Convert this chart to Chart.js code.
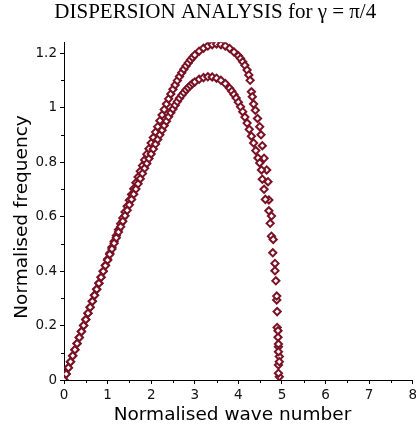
<!DOCTYPE html>
<html>
<head>
<meta charset="utf-8">
<script src="https://cdn.jsdelivr.net/npm/chart.js@4"></script>
<style>
html, body { margin: 0; padding: 0; background: #fff; overflow: hidden; }
</style>
</head>
<body>
<canvas id="myChart" width="420" height="432"></canvas>
<script>
// upper branch (peak ~1.23)
const waveA = [0, 0.05, 0.1, 0.15, 0.2, 0.25, 0.3, 0.35, 0.4, 0.45, 0.5, 0.55, 0.6, 0.65, 0.7, 0.75, 0.8, 0.85, 0.9, 0.95,
  1.0, 1.05, 1.1, 1.15, 1.2, 1.25, 1.3, 1.35, 1.4, 1.45, 1.5, 1.55, 1.6, 1.65, 1.7, 1.75, 1.8, 1.85, 1.9, 1.95,
  2.0, 2.05, 2.1, 2.15, 2.2, 2.25, 2.3, 2.35, 2.4, 2.45, 2.5, 2.55, 2.6, 2.65, 2.7, 2.75, 2.8, 2.85, 2.9, 2.95,
  3.0, 3.1, 3.2, 3.3, 3.4, 3.5, 3.6, 3.7, 3.8, 3.9, 4.0, 4.05, 4.1, 4.15, 4.2, 4.24, 4.27,
  4.3, 4.32, 4.35, 4.39, 4.44, 4.49, 4.52, 4.55, 4.59, 4.65, 4.68, 4.70, 4.76, 4.76, 4.84, 4.86, 4.88, 4.89,
  4.91, 4.92, 4.94, 4.92, 4.94];
const freqA = [0, 0.022, 0.045, 0.067, 0.089, 0.111, 0.134, 0.156, 0.178, 0.2, 0.222, 0.245, 0.267, 0.289, 0.311, 0.333, 0.355, 0.377, 0.399, 0.421,
  0.443, 0.465, 0.487, 0.509, 0.53, 0.552, 0.574, 0.595, 0.617, 0.638, 0.66, 0.681, 0.702, 0.724, 0.745, 0.766, 0.787, 0.808, 0.829, 0.849,
  0.87, 0.89, 0.91, 0.93, 0.952, 0.973, 0.993, 1.013, 1.032, 1.05, 1.067, 1.083, 1.099, 1.114, 1.128, 1.141, 1.153, 1.164, 1.175, 1.184,
  1.193, 1.207, 1.218, 1.226, 1.231, 1.233, 1.231, 1.226, 1.217, 1.204, 1.19, 1.18, 1.168, 1.155, 1.138, 1.12, 1.1,
  1.058, 1.04, 1.013, 0.99, 0.96, 0.93, 0.9, 0.86, 0.814, 0.771, 0.728, 0.661, 0.602, 0.528, 0.428, 0.364, 0.294, 0.193,
  0.157, 0.122, 0.086, 0.055, 0.012];

// lower branch (peak ~1.11)
const waveB = [0, 0.05, 0.1, 0.15, 0.2, 0.25, 0.3, 0.35, 0.4, 0.45, 0.5, 0.55, 0.6, 0.65, 0.7, 0.75, 0.8, 0.85, 0.9, 0.95,
  1.0, 1.05, 1.1, 1.15, 1.2, 1.25, 1.3, 1.35, 1.4, 1.45, 1.5, 1.55, 1.6, 1.65, 1.7, 1.75, 1.8, 1.85, 1.9, 1.95,
  2.0, 2.05, 2.1, 2.15, 2.2, 2.25, 2.3, 2.35, 2.4, 2.45, 2.5, 2.55, 2.6, 2.65, 2.7, 2.75, 2.8, 2.85, 2.9, 2.95,
  3.0, 3.1, 3.2, 3.3, 3.4, 3.5, 3.6, 3.7, 3.8, 3.85, 3.9, 3.95, 4.0, 4.05, 4.1, 4.15, 4.2, 4.25, 4.3, 4.35, 4.4, 4.45,
  4.49, 4.53, 4.55, 4.59, 4.62, 4.70, 4.73, 4.80, 4.79, 4.84, 4.88, 4.89, 4.91, 4.92, 4.92, 4.94, 4.92];
const freqB = [0, 0.022, 0.045, 0.067, 0.089, 0.111, 0.134, 0.156, 0.178, 0.2, 0.222, 0.245, 0.267, 0.289, 0.311, 0.333, 0.355, 0.377, 0.399, 0.42,
  0.44, 0.461, 0.481, 0.502, 0.522, 0.543, 0.563, 0.583, 0.603, 0.623, 0.643, 0.663, 0.682, 0.701, 0.72, 0.739, 0.758, 0.777, 0.795, 0.813,
  0.83, 0.848, 0.866, 0.883, 0.9, 0.917, 0.934, 0.95, 0.966, 0.981, 0.995, 1.009, 1.022, 1.034, 1.045, 1.055, 1.065, 1.073, 1.081, 1.088,
  1.094, 1.104, 1.11, 1.113, 1.112, 1.108, 1.1, 1.088, 1.071, 1.06, 1.048, 1.035, 1.02, 1.003, 0.985, 0.965, 0.943, 0.92, 0.895, 0.87, 0.842, 0.815,
  0.797, 0.771, 0.737, 0.70, 0.663, 0.621, 0.575, 0.516, 0.467, 0.401, 0.308, 0.251, 0.181, 0.132, 0.104, 0.067, 0.025];

const xTicks = [0, 1, 2, 3, 4, 5, 6, 7, 8];
const yTicks = [0, 0.2, 0.4, 0.6, 0.8, 1, 1.2];

const markColor = '#7a1226';

function toPoints(xs, ys) {
    return xs.map((k, i) => ({ x: k, y: ys[i] }));
}

// small minor ticks between the labelled ones
const minorTicks = {
    id: 'minorTicks',
    afterDraw(chart) {
        const { ctx, scales: { x, y } } = chart;
        ctx.save();
        ctx.strokeStyle = '#000';
        ctx.lineWidth = 1;
        ctx.beginPath();
        for (let i = 0; i < xTicks.length - 1; i++) {
            const px = Math.round(x.getPixelForValue((xTicks[i] + xTicks[i + 1]) / 2)) + 0.5;
            ctx.moveTo(px, x.top);
            ctx.lineTo(px, x.top + 3);
        }
        for (let i = 0; i < yTicks.length - 1; i++) {
            const py = Math.round(y.getPixelForValue((yTicks[i] + yTicks[i + 1]) / 2)) + 0.5;
            ctx.moveTo(y.right, py);
            ctx.lineTo(y.right - 3, py);
        }
        ctx.stroke();
        ctx.restore();
    }
};

const pointStyle = {
    showLine: false,
    pointStyle: 'rectRot',
    pointRadius: 3.6,
    pointBorderWidth: 2,
    pointBorderColor: markColor,
    pointBackgroundColor: '#ffffff'
};

const ctx = document.getElementById('myChart').getContext('2d');
new Chart(ctx, {
    type: 'scatter',
    data: {
        datasets: [
            { label: 'lower', data: toPoints(waveB, freqB), ...pointStyle },
            { label: 'upper', data: toPoints(waveA, freqA), ...pointStyle }
        ]
    },
    options: {
        responsive: false,
        animation: false,
        layout: { padding: 0 },
        plugins: {
            legend: { display: false },
            tooltip: { enabled: false },
            title: {
                display: true,
                text: '  DISPERSION ANALYSIS for γ = π/4',
                color: '#000',
                font: { family: 'Liberation Serif', size: 21, weight: 'normal' },
                padding: { top: 0, bottom: 17 }
            }
        },
        scales: {
            x: {
                type: 'linear',
                min: 0,
                max: 8,
                afterFit(scale) { scale.height = 52; },
                afterBuildTicks(scale) { scale.ticks = xTicks.map(v => ({ value: v })); },
                grid: { drawOnChartArea: false, tickLength: 4, color: '#000' },
                border: { color: '#000' },
                ticks: {
                    color: '#111',
                    padding: 3,
                    font: { family: 'DejaVu Sans', size: 13.5 },
                    callback: v => String(v)
                },
                title: {
                    display: true,
                    text: 'Normalised wave number  ',
                    color: '#000',
                    font: { family: 'DejaVu Sans', size: 18.5 },
                    padding: { top: 0, bottom: 6 }
                }
            },
            y: {
                type: 'linear',
                min: 0,
                max: 1.24,
                afterFit(scale) { scale.width = 64; },
                afterBuildTicks(scale) { scale.ticks = yTicks.map(v => ({ value: v })); },
                grid: { drawOnChartArea: false, tickLength: 4, color: '#000' },
                border: { color: '#000' },
                ticks: {
                    color: '#111',
                    padding: 3,
                    font: { family: 'DejaVu Sans', size: 13.5 },
                    callback: v => String(Math.round(v * 10) / 10)
                },
                title: {
                    display: true,
                    text: 'Normalised frequency  ',
                    color: '#000',
                    font: { family: 'DejaVu Sans', size: 18.5 },
                    padding: { top: 11, bottom: 0 }
                }
            }
        }
    },
    plugins: [minorTicks]
});
</script>
</body>
</html>
